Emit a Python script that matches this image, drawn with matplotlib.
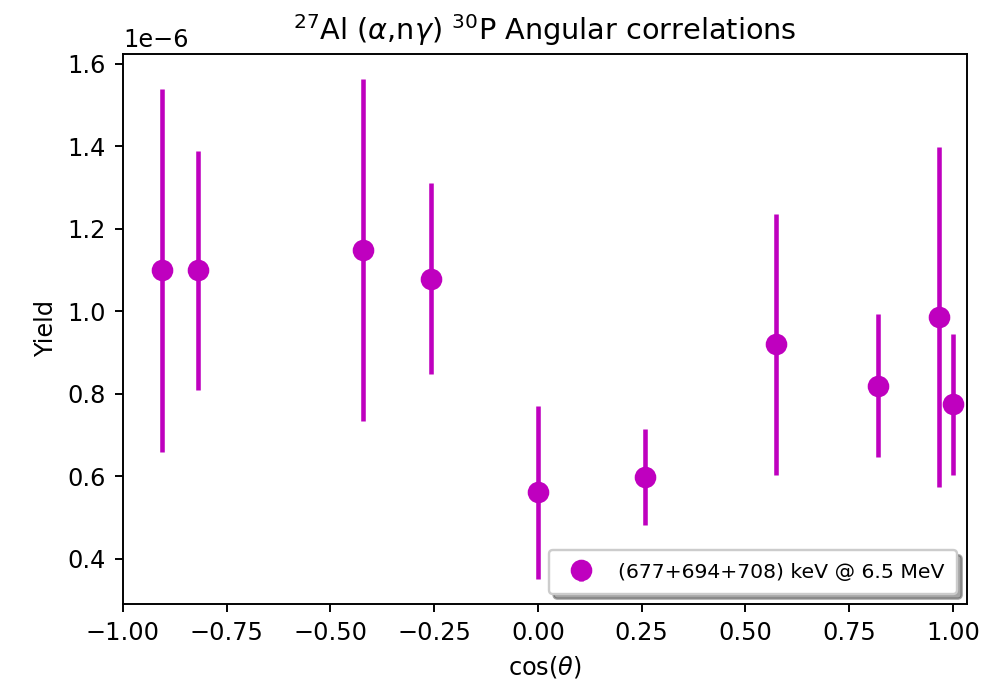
import numpy as np
import matplotlib
matplotlib.use("Agg")
import matplotlib.pyplot as plt

# Detector angles (deg) and measured yields with uncertainties
angles_deg = [155, 145, 115, 105, 90, 75, 55, 35, 15, 0]
yield_vals = [1.099e-6, 1.099e-6, 1.148e-6, 1.079e-6, 0.561e-6,
              0.598e-6, 0.920e-6, 0.820e-6, 0.986e-6, 0.774e-6]
yield_errs = [0.440e-6, 0.290e-6, 0.415e-6, 0.232e-6, 0.210e-6,
              0.116e-6, 0.316e-6, 0.173e-6, 0.413e-6, 0.170e-6]
series_label = "(677+694+708) keV @ 6.5 MeV"

cos_theta = np.cos(np.radians(angles_deg))

DPI = 172.8
fig = plt.figure(figsize=(995 / DPI, 691 / DPI), dpi=DPI)
ax = fig.add_axes([0.1236, 0.1259, 0.8483, 0.7960])

ax.errorbar(cos_theta, yield_vals, yerr=yield_errs, fmt="mo",
            elinewidth=1.9, markersize=8, label=series_label)

ax.set_xlim(-1.0, 1.034)
ax.set_xticks([-1.0, -0.75, -0.5, -0.25, 0.0, 0.25, 0.5, 0.75, 1.0])
ax.set_xlabel(r"cos($\theta$)")
ax.set_ylabel("Yield")
ax.set_title(r"$^{27}$Al ($\alpha$,n$\gamma$) $^{30}$P Angular correlations")
ax.legend(loc="lower right", fontsize=8.5, shadow=True, borderpad=0.6)

fig.savefig("out.png", dpi=DPI)
